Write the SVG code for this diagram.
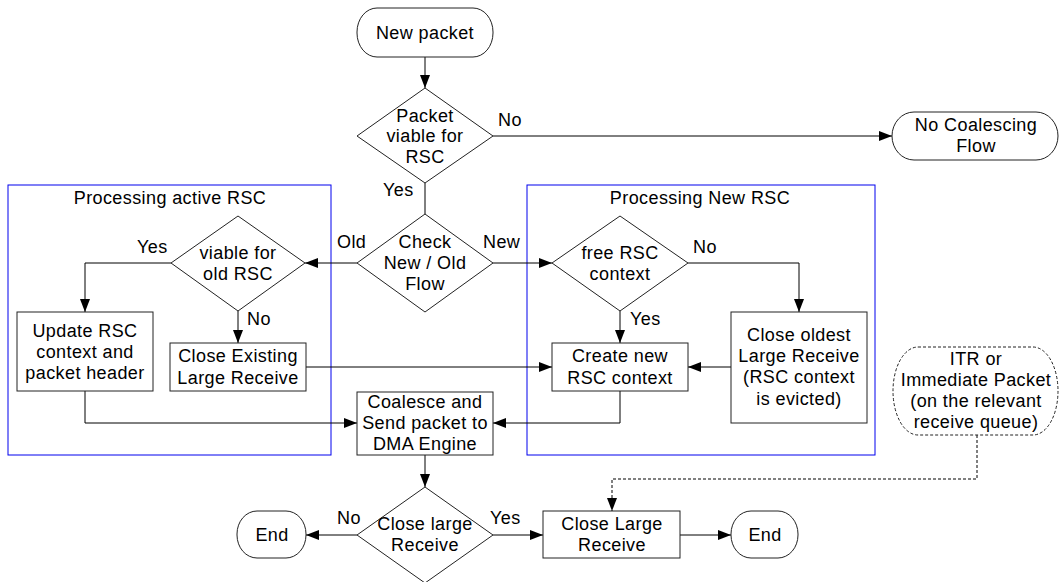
<svg xmlns="http://www.w3.org/2000/svg" width="1060" height="582" viewBox="0 0 1060 582">
<style>
text{font-family:"Liberation Sans",Arial,sans-serif;font-size:18px;letter-spacing:0.4px;fill:#000}
.c{text-anchor:middle}
.n{fill:#fff;stroke:#222;stroke-width:1}
.d{fill:#fff;stroke:#222;stroke-width:1;stroke-dasharray:3 2}
.g{fill:none;stroke:#0000ee;stroke-width:1}
.l{fill:none;stroke:#000;stroke-width:1}
.ld{fill:none;stroke:#000;stroke-width:1;stroke-dasharray:3 2}
</style>
<defs>
<marker id="a" viewBox="0 0 13 10" refX="13" refY="5" markerWidth="13" markerHeight="10" markerUnits="userSpaceOnUse" orient="auto">
<path d="M0,0 L13,5 L0,10 Z" fill="#000"/>
</marker>
</defs>
<g id="groups">
<rect class="g" x="8" y="185" width="323" height="270"/>
<text class="c" x="170" y="204">Processing active RSC</text>
<rect class="g" x="527" y="185" width="348" height="270"/>
<text class="c" x="700" y="204">Processing New RSC</text>
</g>
<g id="connectors">
<path class="l" d="M425,57 V88" marker-end="url(#a)"/>
<path class="l" d="M493,136 H892" marker-end="url(#a)"/>
<path class="l" d="M425,183 V214"/>
<path class="l" d="M357,263 H305" marker-end="url(#a)"/>
<path class="l" d="M493,263 H552" marker-end="url(#a)"/>
<path class="l" d="M171,263 H85 V312" marker-end="url(#a)"/>
<path class="l" d="M238,311 V343" marker-end="url(#a)"/>
<path class="l" d="M306,367 H552" marker-end="url(#a)"/>
<path class="l" d="M85,391 V423 H357" marker-end="url(#a)"/>
<path class="l" d="M688,263 H799 V312" marker-end="url(#a)"/>
<path class="l" d="M620,311 V343" marker-end="url(#a)"/>
<path class="l" d="M731,367 H688" marker-end="url(#a)"/>
<path class="l" d="M620,391 V423 H493" marker-end="url(#a)"/>
<path class="l" d="M425,455 V487" marker-end="url(#a)"/>
<path class="l" d="M357,535 H306" marker-end="url(#a)"/>
<path class="l" d="M493,535 H543" marker-end="url(#a)"/>
<path class="l" d="M680,535 H731" marker-end="url(#a)"/>
<path class="ld" d="M977,435 V479 H612 V511" marker-end="url(#a)"/>
<text x="498" y="126">No</text>
<text x="383" y="196">Yes</text>
<text x="337" y="248">Old</text>
<text x="483" y="248">New</text>
<text x="137" y="253">Yes</text>
<text x="247" y="325">No</text>
<text x="693" y="253">No</text>
<text x="630" y="325">Yes</text>
<text x="337" y="524">No</text>
<text x="490" y="524">Yes</text>
</g>
<g id="new-packet">
<rect class="n" x="357" y="8" width="136" height="49" rx="20" ry="24"/>
<text class="c" x="425" y="39">New packet</text>
</g>
<g id="viable-rsc">
<path class="n" d="M425,88 L493,136 L425,183 L357,136 Z"/>
<text class="c" x="425" y="122">Packet</text>
<text class="c" x="425" y="142">viable for</text>
<text class="c" x="425" y="163">RSC</text>
</g>
<g id="no-coalescing">
<rect class="n" x="892" y="112" width="166" height="48" rx="22" ry="24"/>
<text class="c" x="976" y="131">No Coalescing</text>
<text class="c" x="976" y="152">Flow</text>
</g>
<g id="check-flow">
<path class="n" d="M425,214 L493,263 L425,312 L357,263 Z"/>
<text class="c" x="425" y="248">Check</text>
<text class="c" x="425" y="269">New / Old</text>
<text class="c" x="425" y="290">Flow</text>
</g>
<g id="viable-old">
<path class="n" d="M238,216 L305,263 L238,311 L171,263 Z"/>
<text class="c" x="238" y="259">viable for</text>
<text class="c" x="238" y="280">old RSC</text>
</g>
<g id="update-context">
<rect class="n" x="17" y="312" width="136" height="79"/>
<text class="c" x="85" y="337">Update RSC</text>
<text class="c" x="85" y="358">context and</text>
<text class="c" x="85" y="379">packet header</text>
</g>
<g id="close-existing">
<rect class="n" x="170" y="343" width="136" height="48"/>
<text class="c" x="238" y="362">Close Existing</text>
<text class="c" x="238" y="384">Large Receive</text>
</g>
<g id="free-context">
<path class="n" d="M620,216 L688,263 L620,311 L552,263 Z"/>
<text class="c" x="620" y="259">free RSC</text>
<text class="c" x="620" y="280">context</text>
</g>
<g id="create-context">
<rect class="n" x="552" y="343" width="136" height="48"/>
<text class="c" x="620" y="362">Create new</text>
<text class="c" x="620" y="384">RSC context</text>
</g>
<g id="close-oldest">
<rect class="n" x="731" y="312" width="136" height="111"/>
<text class="c" x="799" y="341">Close oldest</text>
<text class="c" x="799" y="362">Large Receive</text>
<text class="c" x="799" y="383">(RSC context</text>
<text class="c" x="799" y="405">is evicted)</text>
</g>
<g id="coalesce">
<rect class="n" x="357" y="392" width="136" height="63"/>
<text class="c" x="425" y="408">Coalesce and</text>
<text class="c" x="425" y="429">Send packet to</text>
<text class="c" x="425" y="450">DMA Engine</text>
</g>
<g id="close-large-q">
<path class="n" d="M425,487 L493,535 L425,583 L357,535 Z"/>
<text class="c" x="425" y="530">Close large</text>
<text class="c" x="425" y="551">Receive</text>
</g>
<g id="end-left">
<rect class="n" x="237" y="511" width="69" height="47" rx="20" ry="23"/>
<text class="c" x="272" y="541">End</text>
</g>
<g id="close-large">
<rect class="n" x="543" y="511" width="137" height="47"/>
<text class="c" x="612" y="530">Close Large</text>
<text class="c" x="612" y="551">Receive</text>
</g>
<g id="end-right">
<rect class="n" x="731" y="511" width="67" height="47" rx="20" ry="23"/>
<text class="c" x="765" y="541">End</text>
</g>
<g id="itr">
<rect class="d" x="893" y="347" width="165" height="88" rx="25" ry="44"/>
<text class="c" x="976" y="365">ITR or</text>
<text class="c" x="976" y="386">Immediate Packet</text>
<text class="c" x="976" y="407">(on the relevant</text>
<text class="c" x="976" y="428">receive queue)</text>
</g>
</svg>
